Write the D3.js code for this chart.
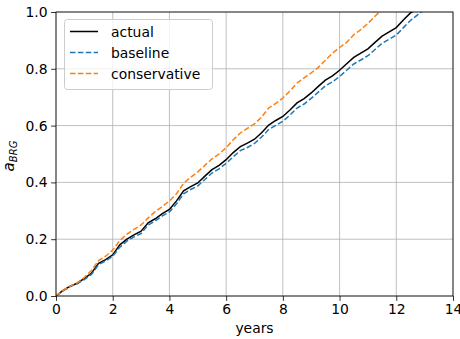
<!DOCTYPE html>
<html><head><meta charset="utf-8">
<script src="https://cdn.jsdelivr.net/npm/d3@7"></script>
<style>body{margin:0;background:#fff}svg{display:block}text{font-family:"DejaVu Sans",sans-serif}</style>
</head><body><svg id="c" width="460" height="339"></svg>
<script>
const years = [0,0.25,0.5,0.75,1,1.25,1.5,1.75,2,2.25,2.5,2.75,3,3.25,3.5,3.75,4,4.25,4.5,4.75,5,5.25,5.5,5.75,6,6.25,6.5,6.75,7,7.25,7.5,7.75,8,8.25,8.5,8.75,9,9.25,9.5,9.75,10,10.25,10.5,10.75,11,11.25,11.5,11.75,12,12.25,12.5,12.75,13];
const actual = [0,0.02,0.035,0.045,0.062,0.08,0.115,0.128,0.145,0.18,0.2,0.215,0.228,0.258,0.272,0.29,0.305,0.335,0.37,0.385,0.398,0.422,0.445,0.46,0.48,0.505,0.526,0.538,0.552,0.575,0.602,0.618,0.632,0.655,0.68,0.695,0.715,0.738,0.76,0.775,0.795,0.818,0.84,0.855,0.87,0.893,0.915,0.93,0.945,0.972,0.997,1.01,1.02];
const baseline = [0,0.018,0.033,0.043,0.058,0.076,0.11,0.124,0.14,0.172,0.193,0.208,0.22,0.25,0.264,0.282,0.296,0.325,0.36,0.375,0.388,0.41,0.433,0.448,0.467,0.49,0.512,0.523,0.537,0.56,0.586,0.601,0.615,0.637,0.662,0.676,0.696,0.718,0.74,0.754,0.773,0.795,0.817,0.831,0.846,0.868,0.89,0.904,0.919,0.945,0.97,0.99,1.01];
const conservative = [0,0.02,0.035,0.047,0.065,0.09,0.125,0.14,0.162,0.195,0.218,0.235,0.25,0.275,0.297,0.315,0.335,0.36,0.397,0.418,0.437,0.46,0.483,0.5,0.522,0.55,0.574,0.59,0.606,0.63,0.662,0.678,0.697,0.722,0.75,0.768,0.786,0.805,0.83,0.855,0.875,0.893,0.92,0.938,0.96,0.985,1.01,1.03,1.05,1.07,1.09,1.11,1.13];
const seriesNames = ["actual","baseline","conservative"];
const seriesColors = ["#000000","#1f77b4","#ff7f0e"];
const xTicks = [0,2,4,6,8,10,12,14];
const yTicks = [0,0.2,0.4,0.6,0.8,1.0];

const svg = d3.select("#c");
const L=56, R=453, T=12, B=296;
const x = d3.scaleLinear().domain([0,14]).range([L,R]);
const y = d3.scaleLinear().domain([0,1]).range([B,T]);

svg.append("defs").append("clipPath").attr("id","clip").append("rect")
  .attr("x",L).attr("y",T).attr("width",R-L).attr("height",B-T);

// grid
const g = svg.append("g");
g.selectAll(".gx").data(xTicks).enter().append("line")
  .attr("x1",d=>x(d)).attr("x2",d=>x(d)).attr("y1",T).attr("y2",B)
  .attr("stroke","#b0b0b0").attr("stroke-width",0.8);
g.selectAll(".gy").data(yTicks).enter().append("line")
  .attr("y1",d=>y(d)).attr("y2",d=>y(d)).attr("x1",L).attr("x2",R)
  .attr("stroke","#b0b0b0").attr("stroke-width",0.8);

// lines
const data = [actual, baseline, conservative];
const line = d3.line().x((d,i)=>x(years[i])).y(d=>y(d)).curve(d3.curveLinear);
const lg = svg.append("g").attr("clip-path","url(#clip)");
data.forEach((s,k)=>{
  lg.append("path").attr("d",line(s)).attr("fill","none")
    .attr("stroke",seriesColors[k]).attr("stroke-width",1.5)
    .attr("stroke-dasharray",k===0?null:"5.5,2.4");
});

// axes
const xa = svg.append("g").attr("transform",`translate(0,${B})`)
  .call(d3.axisBottom(x).tickValues(xTicks).tickFormat(d3.format("d")).tickSize(4.9).tickPadding(3.5));
const ya = svg.append("g").attr("transform",`translate(${L},0)`)
  .call(d3.axisLeft(y).tickValues(yTicks).tickFormat(d3.format(".1f")).tickSize(4.9).tickPadding(3.5));
[xa,ya].forEach(a=>{
  a.select(".domain").remove();
  a.selectAll("line").attr("stroke","#000").attr("stroke-width",0.8);
  a.selectAll("text").attr("font-size",13.9).attr("fill","#000").attr("font-family","DejaVu Sans");
});
svg.append("rect").attr("x",L).attr("y",T).attr("width",R-L).attr("height",B-T)
  .attr("fill","none").attr("stroke","#000").attr("stroke-width",0.8);

// labels
svg.append("text").attr("x",(L+R)/2).attr("y",333).attr("text-anchor","middle")
  .attr("font-size",13.9).text("years");
const yl = svg.append("text").attr("transform",`translate(14,${(T+B)/2+2}) rotate(-90)`)
  .attr("text-anchor","middle").attr("font-size",15);
yl.append("tspan").attr("font-style","italic").text("a");
yl.append("tspan").attr("font-style","italic").attr("font-size",10).attr("dy",3).text("BRG");

// legend
const leg = svg.append("g");
leg.append("rect").attr("x",64.5).attr("y",19.5).attr("width",148).attr("height",70).attr("rx",3)
  .attr("fill","#fff").attr("fill-opacity",0.8).attr("stroke","#ccc").attr("stroke-width",1);
seriesNames.forEach((n,k)=>{
  const yy = 31.5 + k*21;
  leg.append("line").attr("x1",70).attr("x2",98).attr("y1",yy).attr("y2",yy)
    .attr("stroke",seriesColors[k]).attr("stroke-width",1.5)
    .attr("stroke-dasharray",k===0?null:"5.5,2.4");
  leg.append("text").attr("x",111).attr("y",yy+5).attr("font-size",13.9).text(n);
});
</script></body></html>
